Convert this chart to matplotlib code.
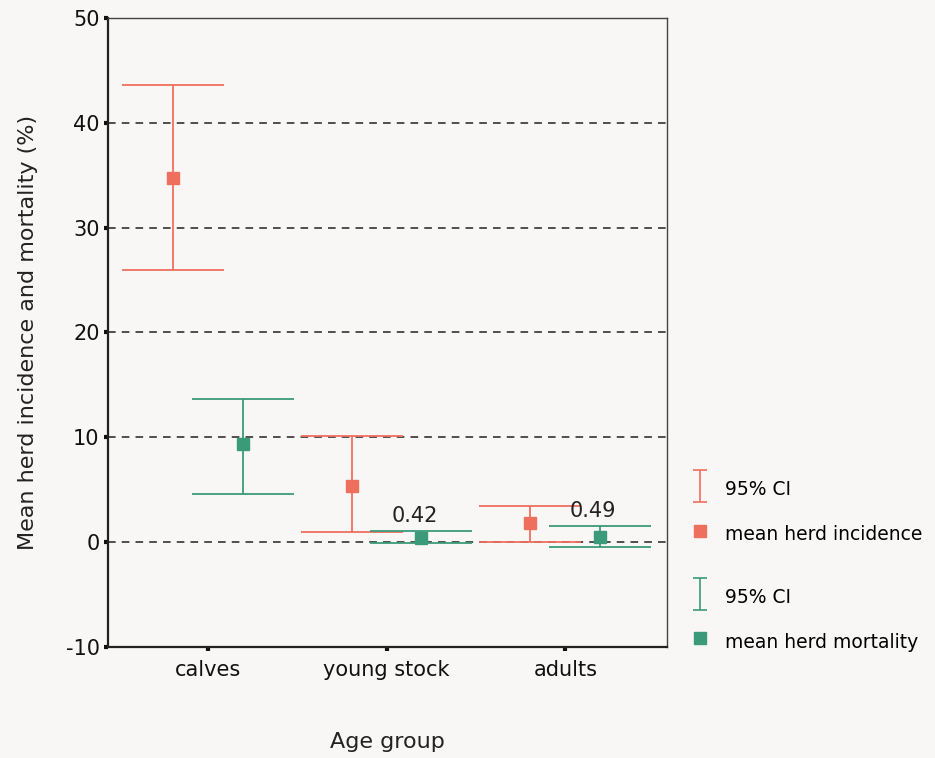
import matplotlib.pyplot as plt
from matplotlib.lines import Line2D
from matplotlib.legend_handler import HandlerErrorbar

plt.rcParams['font.family'] = ['DejaVu Sans']
plt.rcParams['axes.unicode_minus'] = False

# Data
groups = ['calves', 'young stock', 'adults']
incidence_mean = [34.7, 5.4, 1.85]
incidence_low = [26.0, 0.95, 0.05]
incidence_high = [43.6, 10.1, 3.45]
mortality_mean = [9.4, 0.42, 0.49]
mortality_low = [4.6, -0.1, -0.45]
mortality_high = [13.7, 1.05, 1.5]
mortality_labels = [None, '0.42', '0.49']

red = '#ef6f5e'
green = '#3b9a7a'
bg = '#f8f7f5'

fig = plt.figure(figsize=(9.35, 7.58), dpi=100, facecolor=bg)
ax = fig.add_axes([0.1155, 0.1464, 0.598, 0.830], facecolor=bg)

x = list(range(1, len(groups) + 1))
off = 0.195

# grid lines
for yv in [0, 10, 20, 30, 40]:
    ax.axhline(yv, color='#222222', linestyle=(0, (5, 4)), linewidth=1.1, zorder=1)

xi = [v - off for v in x]
xm = [v + off for v in x]
inc_err = [[m - l for m, l in zip(incidence_mean, incidence_low)],
           [h - m for m, h in zip(incidence_mean, incidence_high)]]
mor_err = [[m - l for m, l in zip(mortality_mean, mortality_low)],
           [h - m for m, h in zip(mortality_mean, mortality_high)]]

ax.errorbar(xi, incidence_mean, yerr=inc_err, fmt='none', ecolor=red,
            elinewidth=1.3, capsize=37, capthick=1.3, zorder=3)
ax.errorbar(xm, mortality_mean, yerr=mor_err, fmt='none', ecolor=green,
            elinewidth=1.3, capsize=37, capthick=1.3, zorder=3)
ax.plot(xi, incidence_mean, 's', color=red, markersize=9, zorder=4)
ax.plot(xm, mortality_mean, 's', color=green, markersize=9, zorder=4)

for xv, yv, lab in zip(xm, mortality_high, mortality_labels):
    if lab:
        ax.annotate(lab, (xv, yv), textcoords='offset points', xytext=(-5, 4),
                    ha='center', va='bottom', fontsize=15, color='#222222')

ax.set_xlim(0.44, 3.57)
ax.set_ylim(-10, 50)
ax.set_yticks([-10, 0, 10, 20, 30, 40, 50])
ax.set_xticks(x)
ax.set_xticklabels(groups)
ax.tick_params(axis='both', direction='out', length=3, width=3, labelsize=15,
               colors='#111111', pad=3)
ax.tick_params(axis='x', pad=6)

for s in ['left', 'bottom']:
    ax.spines[s].set_linewidth(1.6)
    ax.spines[s].set_color('#222222')
for s in ['top', 'right']:
    ax.spines[s].set_linewidth(1.0)
    ax.spines[s].set_color('#444444')

ax.set_xlabel('Age group', fontsize=16, labelpad=38, color='#222222')
ax.set_ylabel('Mean herd incidence and mortality (%)', fontsize=16, labelpad=20,
              color='#222222')

# legend handles (dummy, NaN data so nothing is drawn on the axes)
ci_red = ax.errorbar([float('nan')], [float('nan')], yerr=[1], fmt='none',
                     ecolor=red, elinewidth=1.2, capsize=5, capthick=1.2)
ci_green = ax.errorbar([float('nan')], [float('nan')], yerr=[1], fmt='none',
                       ecolor=green, elinewidth=1.2, capsize=5, capthick=1.2)
sq_red = Line2D([], [], marker='s', linestyle='none', color=red, markersize=8)
sq_green = Line2D([], [], marker='s', linestyle='none', color=green, markersize=8)
hmap = {type(ci_red): HandlerErrorbar(yerr_size=0.85)}

leg_kw = dict(loc='upper left', frameon=False, fontsize=13.5, labelspacing=1.1,
              handlelength=1.0, handleheight=1.6, handletextpad=0.8,
              handler_map=hmap)
fig.legend([ci_red, sq_red], ['95% CI', 'mean herd incidence'],
           bbox_to_anchor=(0.721, 0.393), **leg_kw)
fig.legend([ci_green, sq_green], ['95% CI', 'mean herd mortality'],
           bbox_to_anchor=(0.721, 0.251), **leg_kw)

plt.savefig('out.png', dpi=100, facecolor=bg)
